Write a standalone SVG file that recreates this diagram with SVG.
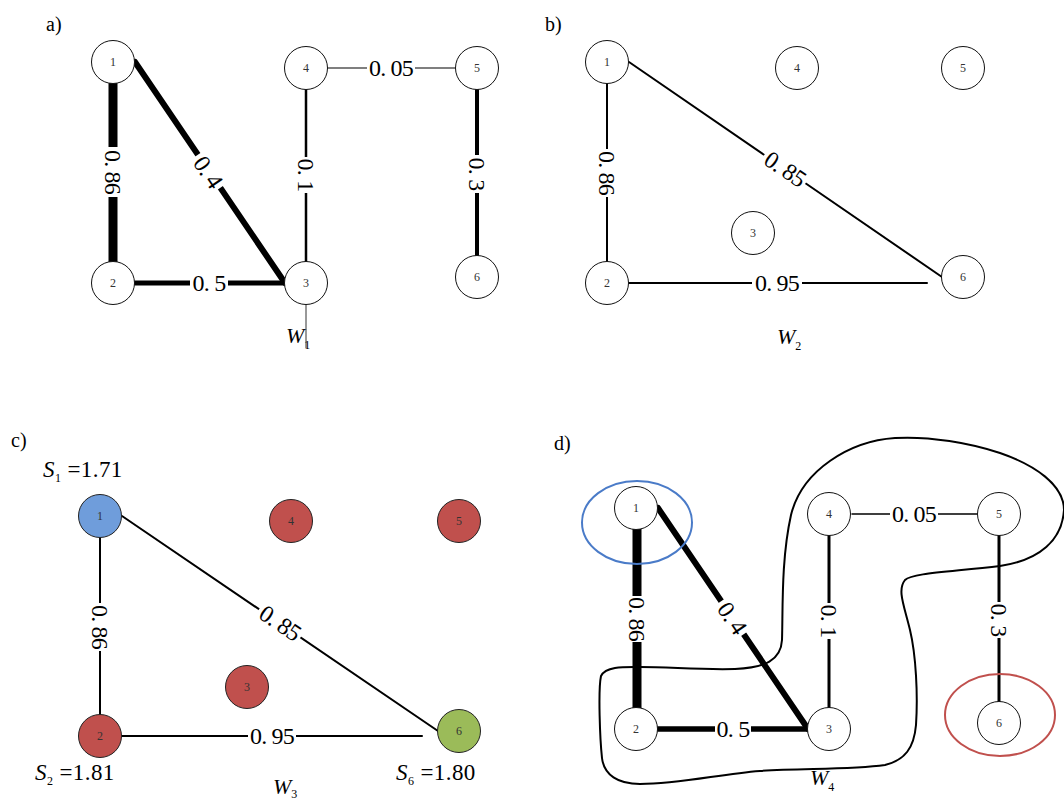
<svg xmlns="http://www.w3.org/2000/svg" width="1064" height="800" viewBox="0 0 1064 800">
<style>
.nc{fill:#fff;stroke:#111;stroke-width:1}
.red{fill:#c0504d;stroke:#222}
.blue{fill:#6f9ddb;stroke:#222}
.green{fill:#9bbb59;stroke:#222}
.nl{font-family:"Liberation Serif",serif;font-size:12px;fill:#333;text-anchor:middle;dominant-baseline:central}
.el{font-family:"Liberation Serif",serif;font-size:24px;letter-spacing:-0.8px;fill:#000;text-anchor:middle;dominant-baseline:central}
.bg{fill:#fff}
.e{stroke:#000;fill:none;stroke-linecap:round}
.pl{font-family:"Liberation Serif",serif;font-size:20px;fill:#000}
.w{font-family:"Liberation Serif",serif;font-size:22px;font-style:italic;fill:#000}
.sub{font-size:12px;font-style:normal}
.s{font-family:"Liberation Serif",serif;font-size:23px;letter-spacing:0.4px;fill:#000}
</style>

<!-- panel labels -->
<text class="pl" x="46" y="31">a)</text>
<text class="pl" x="545" y="31">b)</text>
<text class="pl" x="11" y="447">c)</text>
<text class="pl" x="554" y="450">d)</text>

<!-- connectors -->
<g id="connectors">
  <!-- panel a -->
  <line class="e" x1="113" y1="84" x2="113" y2="262" stroke-width="9"/>
  <line class="e" x1="135" y1="62" x2="285" y2="283" stroke-width="6"/>
  <line class="e" x1="135" y1="283" x2="285" y2="283" stroke-width="5"/>
  <line class="e" x1="306" y1="89" x2="306" y2="262" stroke-width="2.5"/>
  <line class="e" x1="328" y1="68" x2="455" y2="68" stroke-width="1.2" stroke-linecap="butt"/>
  <line class="e" x1="477" y1="89" x2="477" y2="257" stroke-width="4"/>
  <line x1="306" y1="304" x2="306" y2="348" stroke="#333" stroke-width="1"/>
  <g transform="translate(113,172) rotate(90)"><rect class="bg" x="-25" y="-9" width="50" height="18"/><text class="el">0. 86</text></g>
  <g transform="translate(208,172) rotate(55.8)"><rect class="bg" x="-20" y="-8" width="40" height="16"/><text class="el">0. 4</text></g>
  <g transform="translate(209,283)"><rect class="bg" x="-19" y="-8" width="38" height="16"/><text class="el">0. 5</text></g>
  <g transform="translate(306,175) rotate(90)"><rect class="bg" x="-18" y="-8" width="36" height="16"/><text class="el">0. 1</text></g>
  <g transform="translate(391,68)"><rect class="bg" x="-24" y="-8" width="48" height="16"/><text class="el">0. 05</text></g>
  <g transform="translate(477,174) rotate(90)"><rect class="bg" x="-19" y="-8" width="38" height="16"/><text class="el">0. 3</text></g>

  <!-- panel b -->
  <line class="e" x1="607" y1="84" x2="607" y2="261" stroke-width="2"/>
  <line class="e" x1="629" y1="62" x2="942" y2="277" stroke-width="2"/>
  <line class="e" x1="629" y1="283" x2="927" y2="283" stroke-width="2" stroke-linecap="butt"/>
  <g transform="translate(607,173) rotate(90)"><rect class="bg" x="-24" y="-8" width="48" height="16"/><text class="el">0. 86</text></g>
  <g transform="translate(785,169) rotate(34.4)"><rect class="bg" x="-25" y="-8" width="50" height="16"/><text class="el">0. 85</text></g>
  <g transform="translate(777,283)"><rect class="bg" x="-25" y="-8" width="50" height="16"/><text class="el">0. 95</text></g>

  <!-- panel c -->
  <line class="e" x1="100" y1="538" x2="100" y2="714" stroke-width="2"/>
  <line class="e" x1="122" y1="516" x2="438" y2="731" stroke-width="2"/>
  <line class="e" x1="122" y1="736" x2="422" y2="736" stroke-width="2" stroke-linecap="butt"/>
  <g transform="translate(100,627) rotate(90)"><rect class="bg" x="-24" y="-8" width="48" height="16"/><text class="el">0. 86</text></g>
  <g transform="translate(280,623) rotate(34.2)"><rect class="bg" x="-25" y="-8" width="50" height="16"/><text class="el">0. 85</text></g>
  <g transform="translate(272,736)"><rect class="bg" x="-24" y="-8" width="48" height="16"/><text class="el">0. 95</text></g>

  <!-- panel d -->
  <line class="e" x1="637" y1="529" x2="637" y2="710" stroke-width="9"/>
  <line class="e" x1="658" y1="508" x2="808" y2="729" stroke-width="6"/>
  <line class="e" x1="658" y1="729" x2="808" y2="729" stroke-width="5.5"/>
  <line class="e" x1="829" y1="536" x2="829" y2="707" stroke-width="3"/>
  <line class="e" x1="852" y1="514" x2="978" y2="514" stroke-width="1.5" stroke-linecap="butt"/>
  <line class="e" x1="999" y1="536" x2="999" y2="702" stroke-width="3"/>
  <g transform="translate(637,619) rotate(90)"><rect class="bg" x="-23" y="-9" width="46" height="18"/><text class="el">0. 86</text></g>
  <g transform="translate(732,618) rotate(55.8)"><rect class="bg" x="-20" y="-8" width="40" height="16"/><text class="el">0. 4</text></g>
  <g transform="translate(733,729)"><rect class="bg" x="-18" y="-8" width="36" height="16"/><text class="el">0. 5</text></g>
  <g transform="translate(829,621) rotate(90)"><rect class="bg" x="-18" y="-8" width="36" height="16"/><text class="el">0. 1</text></g>
  <g transform="translate(914,514)"><rect class="bg" x="-24" y="-8" width="48" height="16"/><text class="el">0. 05</text></g>
  <g transform="translate(999,620) rotate(90)"><rect class="bg" x="-18" y="-8" width="36" height="16"/><text class="el">0. 3</text></g>
</g>

<!-- panel a nodes -->
<g id="a1"><circle class="nc" cx="113" cy="62" r="21.5"/><text class="nl" x="113" y="62">1</text></g>
<g id="a2"><circle class="nc" cx="113" cy="283" r="21.5"/><text class="nl" x="113" y="283">2</text></g>
<g id="a3"><circle class="nc" cx="306" cy="283" r="21.5"/><text class="nl" x="306" y="283">3</text></g>
<g id="a4"><circle class="nc" cx="306" cy="68" r="21.5"/><text class="nl" x="306" y="68">4</text></g>
<g id="a5"><circle class="nc" cx="477" cy="68" r="21.5"/><text class="nl" x="477" y="68">5</text></g>
<g id="a6"><circle class="nc" cx="477" cy="277" r="21.5"/><text class="nl" x="477" y="277">6</text></g>

<!-- panel b nodes -->
<g id="b1"><circle class="nc" cx="607" cy="62" r="21.5"/><text class="nl" x="607" y="62">1</text></g>
<g id="b2"><circle class="nc" cx="607" cy="283" r="21.5"/><text class="nl" x="607" y="283">2</text></g>
<g id="b3"><circle class="nc" cx="753" cy="233" r="21.5"/><text class="nl" x="753" y="233">3</text></g>
<g id="b4"><circle class="nc" cx="797" cy="68" r="21.5"/><text class="nl" x="797" y="68">4</text></g>
<g id="b5"><circle class="nc" cx="963" cy="68" r="21.5"/><text class="nl" x="963" y="68">5</text></g>
<g id="b6"><circle class="nc" cx="963" cy="277" r="21.5"/><text class="nl" x="963" y="277">6</text></g>

<!-- panel c nodes -->
<g id="c1"><circle class="blue" cx="100" cy="516" r="21.5"/><text class="nl" x="100" y="516">1</text></g>
<g id="c2"><circle class="red" cx="100" cy="736" r="21.5"/><text class="nl" x="100" y="736">2</text></g>
<g id="c3"><circle class="red" cx="247" cy="687" r="21.5"/><text class="nl" x="247" y="687">3</text></g>
<g id="c4"><circle class="red" cx="291" cy="521" r="21.5"/><text class="nl" x="291" y="521">4</text></g>
<g id="c5"><circle class="red" cx="459" cy="521" r="21.5"/><text class="nl" x="459" y="521">5</text></g>
<g id="c6"><circle class="green" cx="459" cy="731" r="21.5"/><text class="nl" x="459" y="731">6</text></g>

<!-- panel d nodes -->
<g id="d1"><circle class="nc" cx="636" cy="508" r="21.5"/><text class="nl" x="636" y="508">1</text></g>
<g id="d2"><circle class="nc" cx="636" cy="729" r="21.5"/><text class="nl" x="636" y="729">2</text></g>
<g id="d3"><circle class="nc" cx="829" cy="729" r="21.5"/><text class="nl" x="829" y="729">3</text></g>
<g id="d4"><circle class="nc" cx="829" cy="514" r="21.5"/><text class="nl" x="829" y="514">4</text></g>
<g id="d5"><circle class="nc" cx="999" cy="514" r="21.5"/><text class="nl" x="999" y="514">5</text></g>
<g id="d6"><circle class="nc" cx="999" cy="723" r="21.5"/><text class="nl" x="999" y="723">6</text></g>

<!-- panel d grouping shapes -->
<g id="groups">
  <ellipse cx="637" cy="522.5" rx="55" ry="41.5" fill="none" stroke="#4a7bc8" stroke-width="2"/>
  <ellipse cx="1000" cy="715" rx="55" ry="41" fill="none" stroke="#c0504d" stroke-width="2"/>
  <path d="M 640 667 C 625 667 606 666 601 676 C 598 690 600 740 602 758 C 604 775 618 784 640 784 C 680 784 720 774 760 771 C 800 768 850 770 885 765 C 905 760 914 748 916 725 C 918 695 916 655 910 630 C 904 605 897 590 905 580 C 912 573 950 572 1000 566 C 1040 560 1062 540 1064 510 C 1064 485 1035 465 1000 453 C 970 443 930 436 895 438 C 850 441 802 470 791 515 C 781 560 783 610 782 640 C 781 660 765 668 735 669 C 700 670 670 667 640 667 Z" fill="none" stroke="#000" stroke-width="2"/>
</g>

<!-- W labels -->
<text class="w" x="286" y="343">W<tspan class="sub" dy="6">1</tspan></text>
<text class="w" x="777" y="344">W<tspan class="sub" dy="6">2</tspan></text>
<text class="w" x="273" y="794">W<tspan class="sub" dy="4">3</tspan></text>
<text class="w" x="810" y="785">W<tspan class="sub" dy="6">4</tspan></text>

<!-- S labels -->
<text class="s" x="43" y="477"><tspan font-style="italic">S</tspan><tspan font-size="12" dy="5">1</tspan><tspan dy="-5"> =1.71</tspan></text>
<text class="s" x="35" y="780"><tspan font-style="italic">S</tspan><tspan font-size="12" dy="5">2</tspan><tspan dy="-5"> =1.81</tspan></text>
<text class="s" x="396" y="780"><tspan font-style="italic">S</tspan><tspan font-size="12" dy="5">6</tspan><tspan dy="-5"> =1.80</tspan></text>
</svg>
